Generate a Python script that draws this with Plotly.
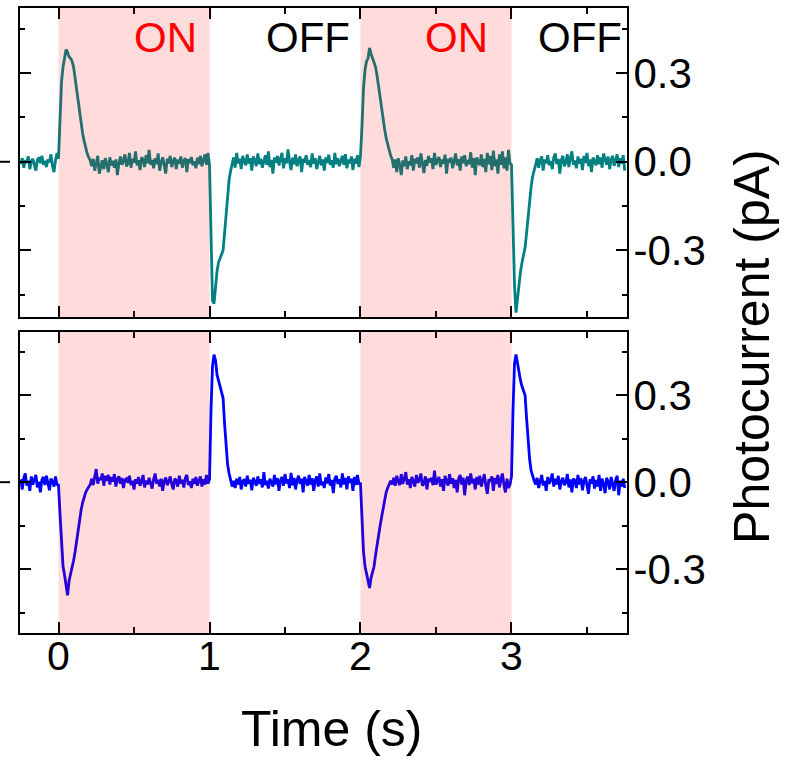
import numpy as np
import plotly.graph_objects as go

# Sampling of both recordings
t_start_s = -0.25
sample_step_s = 0.01

# Upper recording, photocurrent in fA (one sample every 10 ms from t = -0.25 s)
current_top_fA = [
    # -0.25 .. -0.01
    -8, 12, -20, 5, -3, 18, -25, 2, 10, -12,
    -30, 6, 15, -5, 20, -10, 3, -18, 8, -2,
    25, -15, -35, 4, 30,
    # 0.00 .. 0.21 (light on)
    10, 140, 270, 320, 350, 380, 370, 355, 350, 340,
    320, 280, 240, 200, 160, 125, 95, 70, 45, 28,
    15, 5,
    # 0.22 .. 0.99
    -15, 10, -30, -5, 20, -40, -10, 5, -25, 12,
    -8, -35, 15, -12, 3, -20, 8, -45, -5, 18,
    -10, 2, 25, -15, -6, 30, -20, 10, -3, 35,
    -12, 5, -28, 15, 8, -18, 22, -5, 40, -10,
    6, -22, 12, -8, 28, -30, -2, 15, -12, -40,
    10, -5, 20, -18, 3, 14, -25, 8, -6, 18,
    -20, 4, 12, -35, 9, -4, 16, -12, 2, -22,
    14, -8, 20, -15, 6, 25, -10, 30,
    # 1.00 .. 1.15 (light off)
    -10, -260, -470, -480, -420, -370, -340, -325, -315, -300,
    -240, -170, -115, -60, -30, -10,
    # 1.16 .. 1.99
    15, -20, 30, -5, 10, -25, 20, 2, -12, 25,
    -6, 12, -30, 18, 5, -15, 28, -8, 10, -20,
    3, 22, -10, 35, -18, 6, -40, 15, -3, 20,
    -12, 8, 30, -22, 12, -5, 42, 0, -28, 14,
    -8, 25, -15, 5, 18, -35, 10, -2, 22, -10,
    6, -18, 28, -6, 12, -25, 3, 20, -12, 8,
    -30, 15, -4, 24, -10, 5, -20, 30, -8, 12,
    -15, 2, 20, -10, 26, -22, 8, -5, 18, -28,
    10, -6, 22, -18,
    # 2.00 .. 2.21 (light on)
    20, 120, 250, 310, 340, 350, 385, 365, 350, 340,
    320, 290, 250, 210, 170, 140, 110, 80, 55, 40,
    20, 8,
    # 2.22 .. 2.99
    -20, 8, -35, 12, -10, -45, 5, -15, 18, -25,
    2, -12, 22, -30, 10, -5, 15, -20, 28, -8,
    -38, 6, -14, 20, -3, 12, -25, 30, -10, 4,
    16, -18, 8, -6, 24, -40, 10, -2, 14, -22,
    5, 28, -12, 9, -30, 18, -5, 22, -15, 6,
    -8, 32, -20, 12, -45, 15, 0, -12, 25, -18,
    10, -35, 30, -8, 20, -28, 38, -15, 8, -40,
    25, -10, 35, -22, 15, -30, 40, -5,
    # 3.00 .. 3.15 (light off)
    -10, -200, -420, -510, -460, -400, -370, -340, -310, -290,
    -240, -180, -130, -85, -50, -25,
    # 3.16 .. 3.75
    -10, 12, -20, 5, 18, -30, 8, -5, 22, -12,
    3, -25, 15, 28, -8, 10, -40, 6, 20, -15,
    -2, 25, -18, 12, 35, -10, 4, -22, 18, -6,
    10, -28, 20, -4, 30, -15, 8, -35, 14, 2,
    -12, 22, -8, 15, -20, 28, 5, -10, 18, -25,
    6, 20, -14, 10, 25, -18, 12, -6, 22, -30,
]

# Lower recording, photocurrent in fA (same sampling)
current_bottom_fA = [
    # -0.25 .. -0.01
    10, -25, 15, 30, -12, 5, -30, 20, -8, 12,
    25, -18, 2, -35, 8, 18, -10, 22, -5, -28,
    12, 4, -15, 20, -8,
    # 0.00 .. 0.21 (light on)
    -10, -110, -220, -290, -320, -350, -390, -340, -320, -300,
    -270, -240, -200, -170, -130, -95, -70, -50, -35, -25,
    -15, -8,
    # 0.22 .. 0.99
    12, -10, 20, 45, -5, 15, 8, 30, -12, 22,
    5, 25, -8, 18, 2, 28, -15, 10, 20, -5,
    15, -20, 8, 12, -2, 22, -10, 5, -25, 10,
    -5, 18, -12, 2, 25, -18, 6, -8, 15, -3,
    -22, 10, 30, -5, 8, -15, 12, -30, 4, 16,
    -10, 2, 20, -8, -25, 12, 6, -15, 22, -4,
    8, -18, 15, 25, -10, 3, -20, 12, -6, 18,
    -12, 5, 20, -15, 10, -8, 25, -5,
    # 1.00 .. 1.15 (light off)
    10, 250, 400, 440, 420, 370, 350, 330, 320, 290,
    200, 120, 60, 30, 10, -15,
    # 1.16 .. 1.99
    5, -20, 12, -8, 18, -25, 3, 10, -15, 22,
    -5, 8, -28, 15, 2, -12, 20, -6, 10, -18,
    35, -10, 5, -22, 12, 0, -15, 25, -8, 14,
    -30, 6, 18, -12, 28, -4, 10, -20, 32, -10,
    15, -25, 8, 22, -6, 12, -35, 18, 4, -12,
    25, -8, 14, -30, 6, 20, -15, 30, -10, 2,
    -20, 16, -4, 28, -12, 8, -38, 12, 22, -6,
    10, -18, 30, -8, 15, -25, 20, -2, 12, -30,
    18, -10, 25, -5,
    # 2.00 .. 2.21 (light on)
    -5, -120, -240, -290, -320, -350, -365, -330, -310, -290,
    -250, -210, -180, -150, -120, -90, -60, -35, -20, -10,
    5, -8,
    # 2.22 .. 2.99
    15, -12, 22, 2, -10, 28, -6, 12, 35, -8,
    10, -20, 18, 4, -15, 25, -2, 8, 30, -12,
    -5, 20, -25, 12, 2, 15, -10, 40, -8, 6,
    18, -15, 10, -30, 22, 4, -12, 28, -5, 14,
    -20, 8, -35, 12, 25, -8, 16, -45, 6, 20,
    -10, 30, -4, 12, -25, 18, -8, 22, -15, 5,
    28, -12, -40, 10, 2, 20, -30, 15, -6, 25,
    -18, 8, 30, -10, -35, 12, -20, -8,
    # 3.00 .. 3.15 (light off)
    20, 250, 410, 440, 410, 370, 350, 330, 315, 300,
    220, 130, 80, 40, 20, 5,
    # 3.16 .. 3.75
    -8, 15, -20, 10, 25, -12, 4, -30, 18, -5,
    8, 30, -15, 12, -8, 22, -25, 5, 15, -10,
    -2, 28, -18, 10, -35, 12, 6, -20, 25, -8,
    14, -28, 4, 18, -12, -40, 10, -5, 20, -22,
    8, -15, 25, -30, 12, -6, -38, 15, 2, -25,
    18, -10, -30, 8, 22, -45, 5, -15, 12, -20,
]

# Illumination periods (s) and their state labels
light_on_windows = [(0.0, 1.0), (2.0, 3.0)]
state_labels = ["ON", "OFF", "ON", "OFF"]

# Axis ticks
x_tick_vals = [0, 1, 2, 3]
x_tick_text = ["0", "1", "2", "3"]
x_minor_vals = [0.5, 1.5, 2.5, 3.5]
y_tick_vals = [-0.3, 0.0, 0.3]
y_tick_text = ["-0.3", "0.0", "0.3"]
y_minor_vals = [-0.45, -0.15, 0.15, 0.45]

assert len(current_top_fA) == len(current_bottom_fA) == 401

time_s = t_start_s + sample_step_s * np.arange(len(current_top_fA))
top_pA = np.array(current_top_fA) / 1000.0
bottom_pA = np.array(current_bottom_fA) / 1000.0

FONT = "Liberation Sans, Arial, Helvetica, sans-serif"

fig = go.Figure()
fig.add_trace(go.Scatter(x=time_s, y=top_pA, mode="lines",
                         line=dict(color="#008080", width=2.8),
                         xaxis="x", yaxis="y", showlegend=False,
                         hoverinfo="skip"))
fig.add_trace(go.Scatter(x=time_s, y=bottom_pA, mode="lines",
                         line=dict(color="#0000ff", width=2.8),
                         xaxis="x2", yaxis="y2", showlegend=False,
                         hoverinfo="skip"))

x_range = [-0.255, 3.765]
common_x = dict(
    range=x_range, showline=True, linecolor="black", linewidth=2,
    mirror="ticks", ticks="inside", ticklen=11, tickwidth=2, tickcolor="black",
    tickmode="array", tickvals=x_tick_vals, ticktext=x_tick_text,
    minor=dict(tickmode="array", tickvals=x_minor_vals, ticks="inside",
               ticklen=6, tickwidth=2, tickcolor="black"),
    showgrid=False, zeroline=False,
    tickfont=dict(family=FONT, size=41, color="black"),
)
common_y = dict(
    side="right", showline=True, linecolor="black", linewidth=2,
    mirror="ticks", ticks="inside", ticklen=11, tickwidth=2, tickcolor="black",
    tickmode="array", tickvals=y_tick_vals, ticktext=y_tick_text,
    minor=dict(tickmode="array", tickvals=y_minor_vals, ticks="inside",
               ticklen=5, tickwidth=2, tickcolor="black"),
    showgrid=False, zeroline=False, ticklabelstandoff=-4,
    tickfont=dict(family=FONT, size=42, color="black"),
)

W, H = 794, 761
ml, mr, mt, mb = 20, 167, 6, 128
pw, ph = W - ml - mr, H - mt - mb
top_px, bot_px = 316, 331  # gap between the two panels (page px)
top_domain = [(H - mb - top_px) / ph, 1.0]
bot_domain = [0.0, (H - mb - bot_px) / ph]

fig.update_layout(
    width=W, height=H,
    margin=dict(l=ml, r=mr, t=mt, b=mb, pad=0),
    paper_bgcolor="white", plot_bgcolor="white",
    font=dict(family=FONT, color="black"),
    xaxis=dict(common_x, anchor="y", domain=[0, 1], showticklabels=False),
    yaxis=dict(common_y, anchor="x", domain=top_domain, range=[-0.525, 0.52]),
    xaxis2=dict(common_x, anchor="y2", domain=[0, 1], matches="x",
                ticklabelstandoff=-14),
    yaxis2=dict(common_y, anchor="x2", domain=bot_domain, range=[-0.52, 0.518]),
)

shapes = []
for x0, x1 in light_on_windows:
    for xr, yr in (("x", "y domain"), ("x2", "y2 domain")):
        shapes.append(dict(type="rect", xref=xr, yref=yr, x0=x0, x1=x1,
                           y0=0, y1=1, fillcolor="rgba(255,0,0,0.14)",
                           line=dict(width=0), layer="above"))
# short outer marks at zero on the left edge of each panel
for yr in ("y", "y2"):
    shapes.append(dict(type="line", xref="paper", yref=yr,
                       x0=(0 - ml) / pw, x1=(10 - ml) / pw, y0=0, y1=0,
                       line=dict(color="black", width=2), layer="above"))
fig.update_layout(shapes=shapes)

annotations = []
label_x = [0.707, 1.65, 2.636, 3.453]
for lbl, lx in zip(state_labels, label_x):
    annotations.append(dict(
        x=lx, y=0.42, xref="x", yref="y", text=lbl, showarrow=False,
        xanchor="center", yanchor="middle",
        font=dict(family=FONT, size=42, color="red" if lbl == "ON" else "black")))
annotations.append(dict(
    x=(331 - ml) / pw, y=(H - mb - 729) / ph, xref="paper", yref="paper",
    text="Time (s)", showarrow=False, xanchor="center", yanchor="middle",
    font=dict(family=FONT, size=50, color="black")))
annotations.append(dict(
    x=(752 - ml) / pw, y=(H - mb - 346) / ph, xref="paper", yref="paper",
    text="Photocurrent (pA)", showarrow=False, textangle=-90,
    xanchor="center", yanchor="middle",
    font=dict(family=FONT, size=50, color="black")))
fig.update_layout(annotations=annotations)

fig.write_html("out.html")
